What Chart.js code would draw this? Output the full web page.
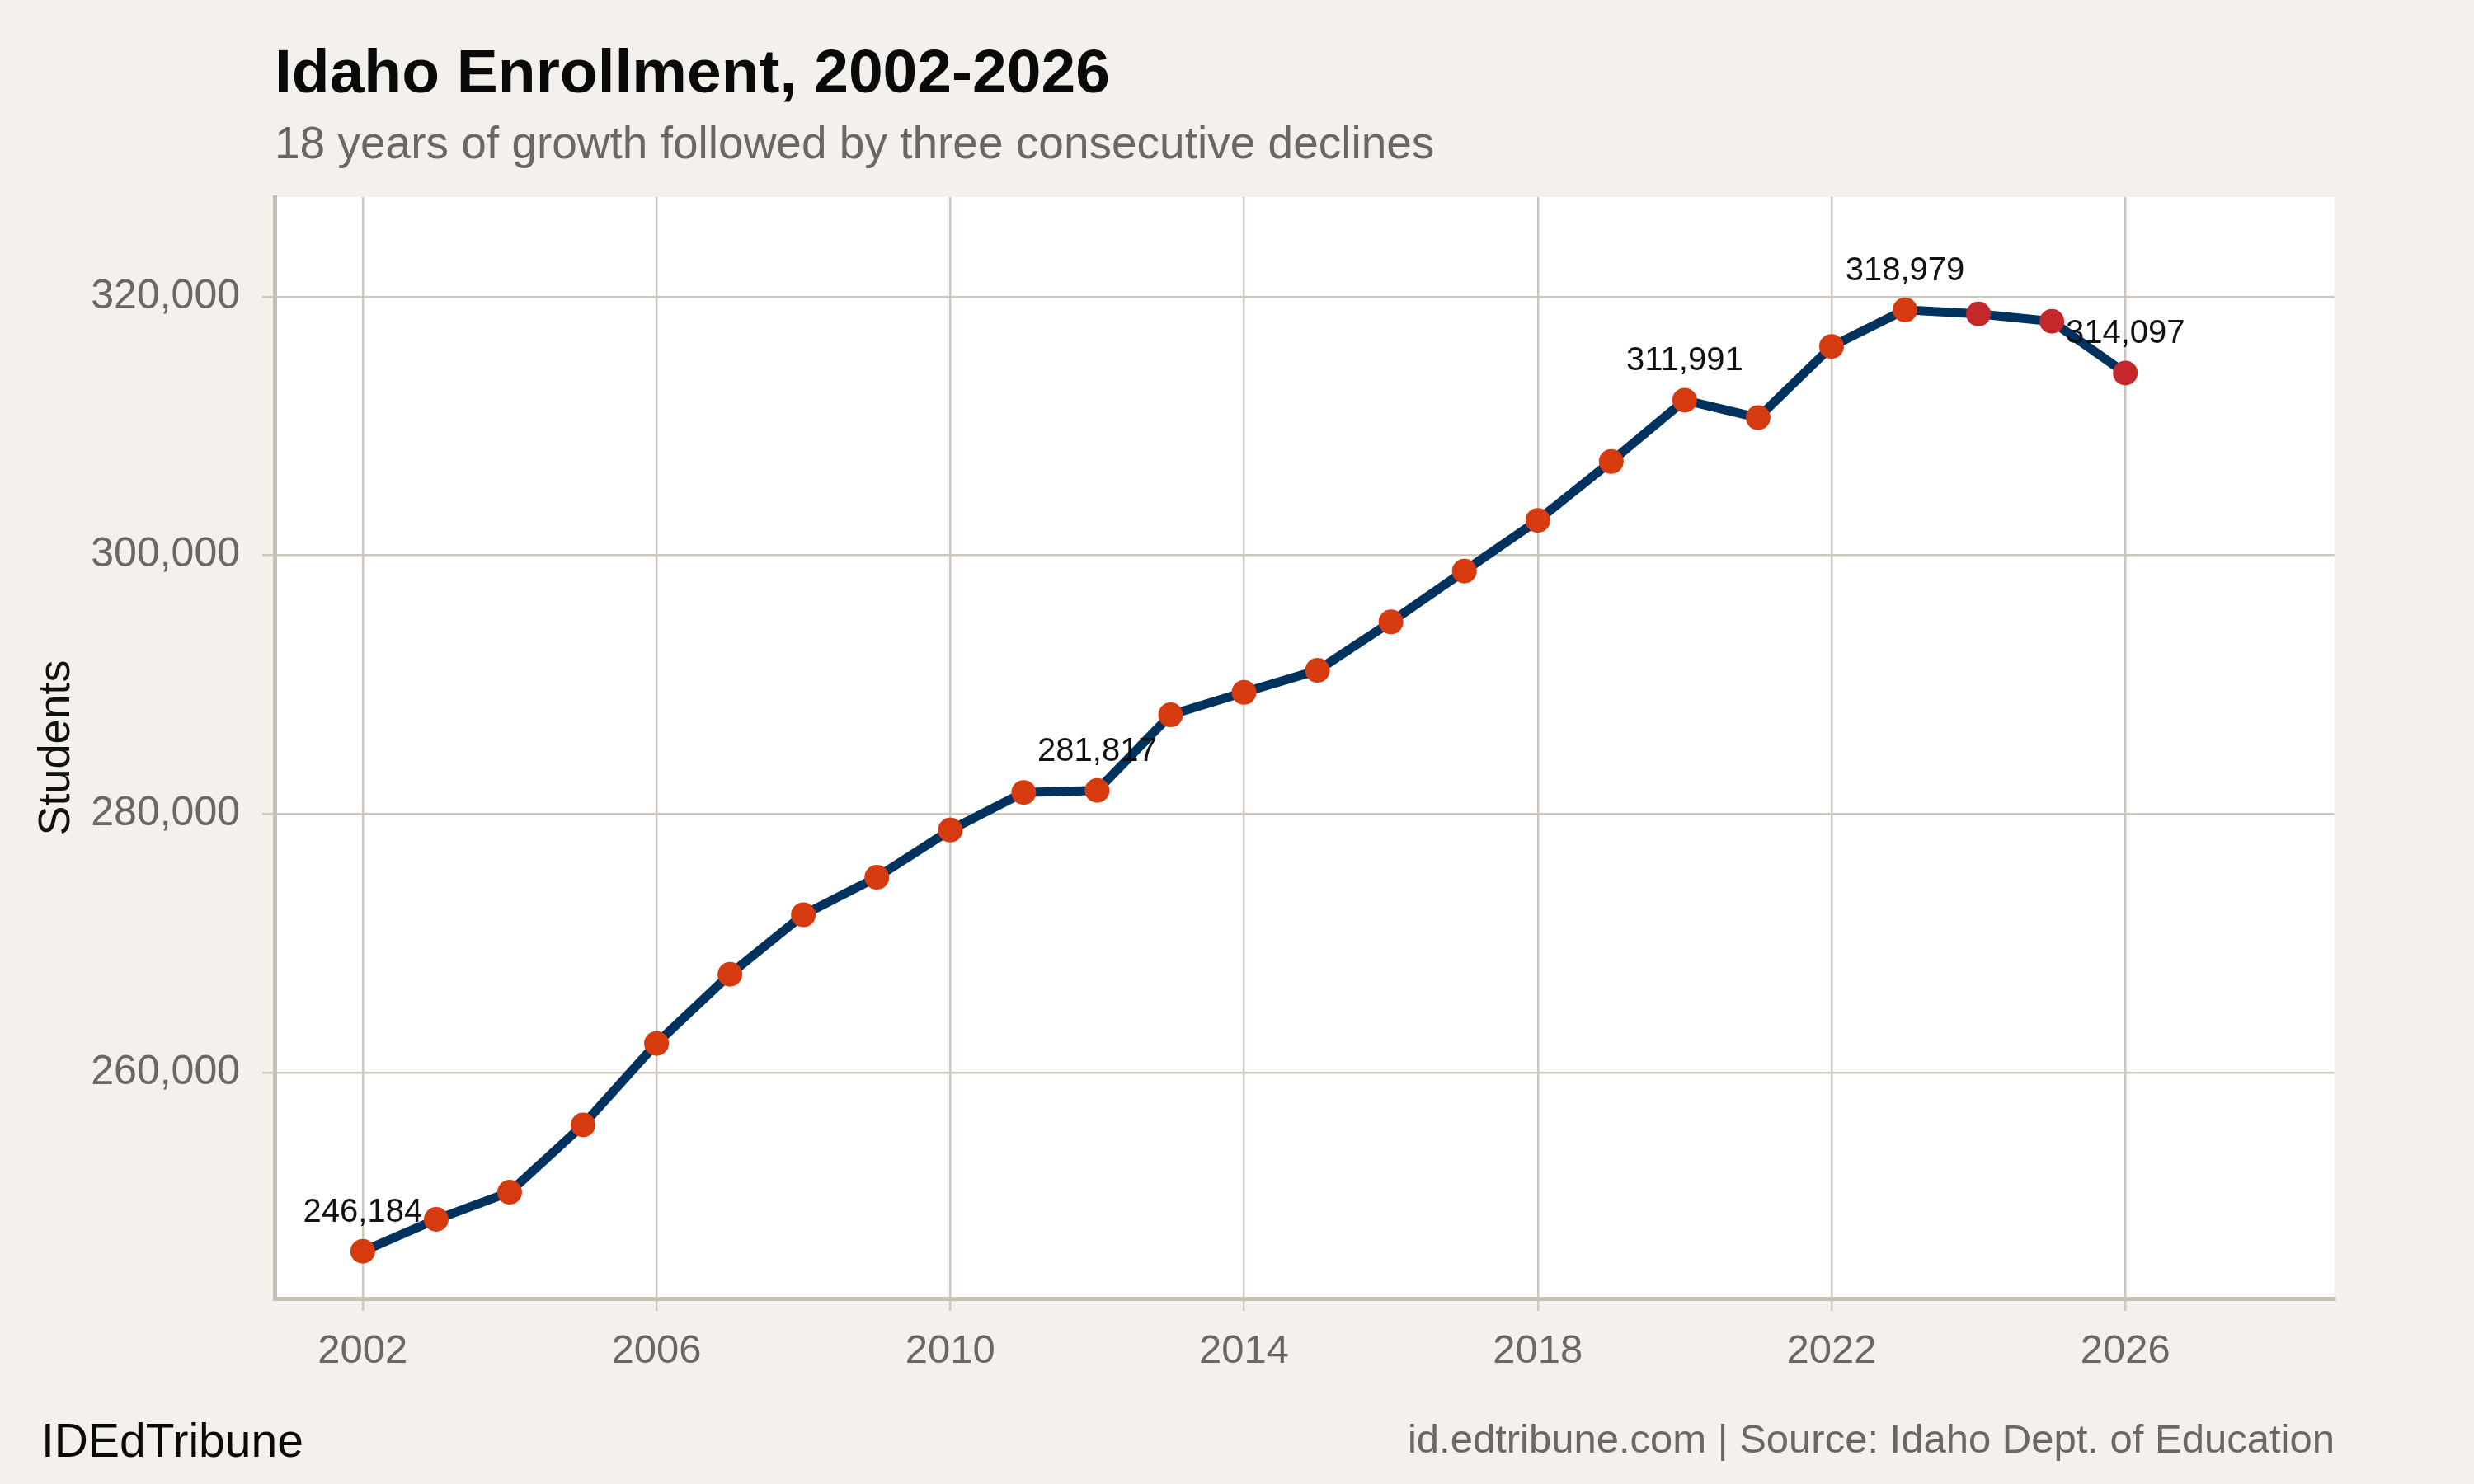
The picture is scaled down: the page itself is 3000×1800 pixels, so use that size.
<!DOCTYPE html>
<html>
<head>
<meta charset="utf-8">
<script src="https://cdn.jsdelivr.net/npm/chart.js@4"></script>
<style>
html, body { margin: 0; padding: 0; background: #F4F1EC; }
#wrap { width: 3000px; height: 1800px; }
canvas { display: block; }
</style>
</head>
<body>
<div id="wrap"><canvas id="c" width="3000" height="1800"></canvas></div>
<script>
// ---- data ----
const years = [2002, 2003, 2004, 2005, 2006, 2007, 2008, 2009, 2010, 2011, 2012, 2013,
               2014, 2015, 2016, 2017, 2018, 2019, 2020, 2021, 2022, 2023, 2024, 2025, 2026];
const students = [246184, 248650, 250750, 255950, 262250, 267600, 272200, 275100, 278750, 281660, 281817, 287660,
                  289400, 291100, 294850, 298780, 302700, 307250, 311991, 310640, 316150, 318979, 318660, 318090, 314097];
const labeledYears = [2002, 2012, 2020, 2023, 2026];
const xTicks = [2002, 2006, 2010, 2014, 2018, 2022, 2026];
const yTicks = [260000, 280000, 300000, 320000];
const titleText = "Idaho Enrollment, 2002-2026";
const subtitleText = "18 years of growth followed by three consecutive declines";
const yAxisTitle = "Students";
const footerLeft = "IDEdTribune";
const footerRight = "id.edtribune.com | Source: Idaho Dept. of Education";

// ---- styles ----
const FONT = "'Liberation Sans', Arial, Helvetica, sans-serif";
const BG = '#F4F1EC';
const GREY_TEXT = '#6B6862';
const GRID = '#CEC7BD';
const AXIS = '#C6BFB4';
const LINE = '#00325F';
const ORANGE = '#D63B10';
const RED = '#C5282B';

const peakIndex = students.indexOf(Math.max(...students));
const pointColors = students.map((v, i) => i > peakIndex ? RED : ORANGE);

const fmt = v => Number(v).toLocaleString('en-US');

const bgPlugin = {
  id: 'bg',
  beforeDraw(chart) {
    const { ctx, chartArea: a } = chart;
    ctx.save();
    ctx.fillStyle = BG;
    ctx.fillRect(0, 0, chart.width, chart.height);
    ctx.fillStyle = '#FFFFFF';
    ctx.fillRect(a.left, a.top, a.right - a.left, a.bottom - a.top);
    ctx.restore();
  }
};

const labelPlugin = {
  id: 'pointLabels',
  afterDatasetsDraw(chart) {
    const { ctx } = chart;
    const meta = chart.getDatasetMeta(0);
    ctx.save();
    ctx.font = '40px ' + FONT;
    ctx.fillStyle = '#111111';
    ctx.textAlign = 'center';
    ctx.textBaseline = 'alphabetic';
    labeledYears.forEach(yr => {
      const i = years.indexOf(yr);
      const p = meta.data[i];
      ctx.fillText(fmt(students[i]), p.x, p.y - 36);
    });
    ctx.restore();
  }
};

const textPlugin = {
  id: 'texts',
  afterDraw(chart) {
    const { ctx, chartArea: a } = chart;
    ctx.save();
    ctx.textBaseline = 'alphabetic';
    ctx.textAlign = 'left';
    ctx.fillStyle = '#0A0A0A';
    ctx.font = 'bold 75px ' + FONT;
    ctx.fillText(titleText, a.left, 112);
    ctx.fillStyle = GREY_TEXT;
    ctx.font = '55px ' + FONT;
    ctx.fillText(subtitleText, a.left, 192);
    ctx.fillStyle = '#0A0A0A';
    ctx.font = '57px ' + FONT;
    ctx.fillText(footerLeft, 50, 1767);
    ctx.fillStyle = GREY_TEXT;
    ctx.font = '49px ' + FONT;
    ctx.textAlign = 'right';
    ctx.fillText(footerRight, a.right, 1762);
    ctx.restore();
  }
};

new Chart(document.getElementById('c'), {
  type: 'line',
  data: {
    datasets: [{
      data: years.map((y, i) => ({ x: y, y: students[i] })),
      borderColor: LINE,
      borderWidth: 11,
      tension: 0,
      pointRadius: 15,
      pointBorderWidth: 0,
      pointBackgroundColor: pointColors,
      pointBorderColor: pointColors,
      fill: false,
      clip: false
    }]
  },
  options: {
    responsive: false,
    animation: false,
    devicePixelRatio: 1,
    layout: { padding: { top: 239, right: 169, bottom: 0, left: 0 } },
    plugins: { legend: { display: false }, tooltip: { enabled: false }, title: { display: false } },
    scales: {
      x: {
        type: 'linear',
        min: 2000.8,
        max: 2028.85,
        afterBuildTicks: s => { s.ticks = xTicks.map(v => ({ value: v })); },
        afterFit: s => { s.height = 225; },
        grid: { color: GRID, lineWidth: 2.5, tickLength: 15, drawTicks: true },
        border: { display: true, color: AXIS, width: 5 },
        ticks: {
          color: GREY_TEXT,
          font: { family: FONT, size: 49 },
          padding: 20,
          maxRotation: 0,
          autoSkip: false,
          callback: v => String(v)
        }
      },
      y: {
        min: 242530,
        max: 327700,
        afterBuildTicks: s => { s.ticks = yTicks.map(v => ({ value: v })); },
        afterFit: s => { s.width = 333; },
        grid: { color: GRID, lineWidth: 2.5, tickLength: 15, drawTicks: true },
        border: { display: true, color: AXIS, width: 5 },
        title: {
          display: true,
          text: yAxisTitle,
          color: '#111111',
          font: { family: FONT, size: 54 },
          padding: { top: 37, bottom: 0 }
        },
        ticks: {
          color: GREY_TEXT,
          font: { family: FONT, size: 50 },
          padding: 27,
          autoSkip: false,
          callback: v => fmt(v)
        }
      }
    }
  },
  plugins: [bgPlugin, labelPlugin, textPlugin]
});
</script>
</body>
</html>
